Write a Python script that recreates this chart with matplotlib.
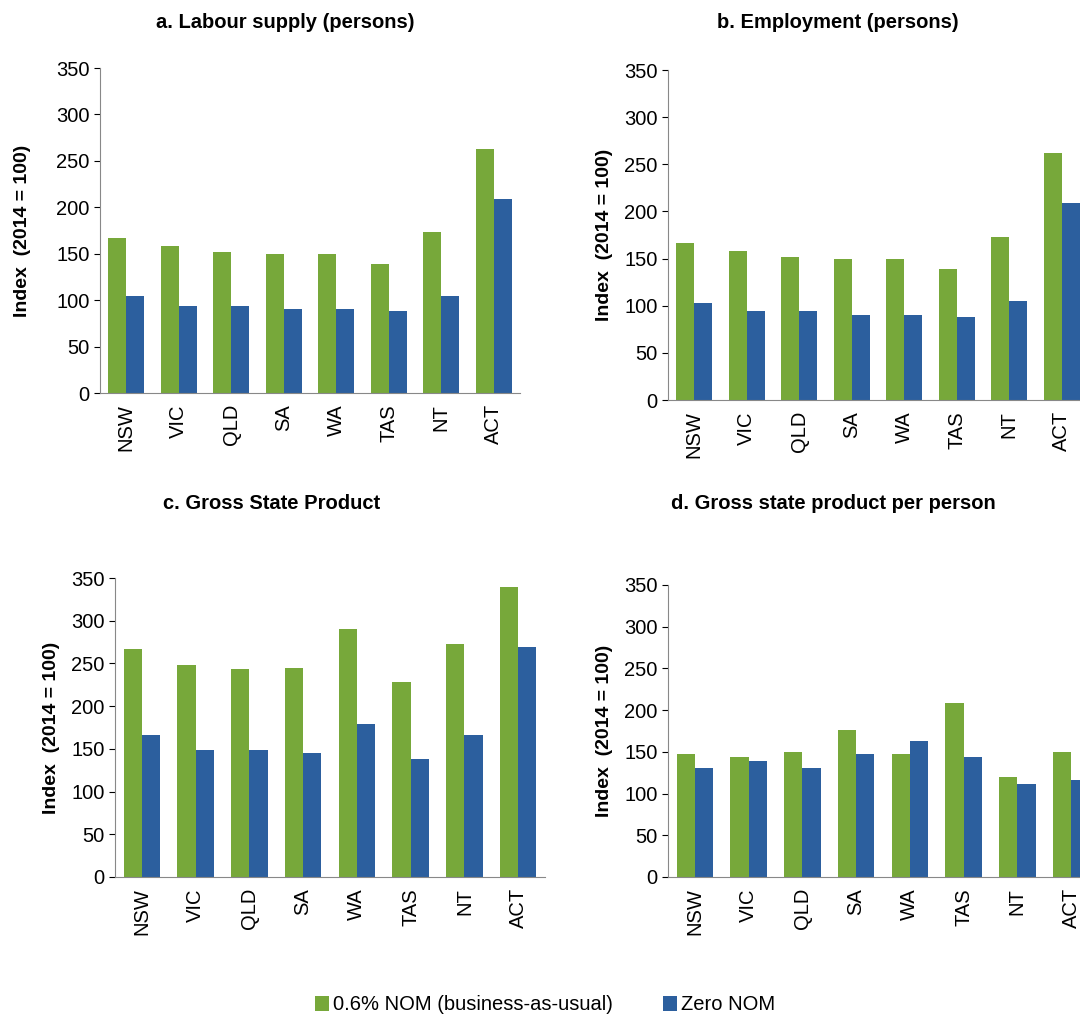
import matplotlib
matplotlib.use("Agg")
import matplotlib.pyplot as plt
import numpy as np

plt.rcParams['font.family'] = ['Liberation Sans', 'DejaVu Sans']

states = ["NSW", "VIC", "QLD", "SA", "WA", "TAS", "NT", "ACT"]
titles = ["a. Labour supply (persons)", "b. Employment (persons)",
          "c. Gross State Product", "d. Gross state product per person"]
bau_a = [167, 158, 152, 150, 150, 139, 173, 263]
zero_a = [105, 94, 94, 90, 90, 88, 105, 209]
bau_b = [167, 158, 152, 150, 150, 139, 173, 262]
zero_b = [103, 94, 94, 90, 90, 88, 105, 209]
bau_c = [267, 248, 243, 245, 290, 228, 273, 340]
zero_c = [166, 149, 149, 145, 179, 138, 166, 269]
bau_d = [148, 144, 150, 176, 148, 208, 120, 150]
zero_d = [131, 139, 131, 148, 163, 144, 111, 116]
series = [(bau_a, zero_a), (bau_b, zero_b), (bau_c, zero_c), (bau_d, zero_d)]
labels = ["0.6% NOM (business-as-usual)", "Zero NOM"]
green, blue = "#77A83A", "#2C5F9E"

W, H = 1080, 1018
fig = plt.figure(figsize=(W/100, H/100), dpi=100)
boxes = [(100, 68, 520, 393), (668, 70, 1088, 400),
         (115, 578, 545, 877), (668, 585, 1098, 877)]
titlepos = [(285, 22), (838, 22), (272, 503), (833, 503)]
x = np.arange(len(states))
w = 0.34
fs = 14.5
for i, ((l, t, r, b), (g, z)) in enumerate(zip(boxes, series)):
    ax = fig.add_axes([l/W, 1-b/H, (r-l)/W, (b-t)/H])
    ax.bar(x - w/2, g, w, color=green, label=labels[0])
    ax.bar(x + w/2, z, w, color=blue, label=labels[1])
    ax.set_ylim(0, 350)
    ax.set_yticks(range(0, 351, 50))
    ax.set_xlim(-0.5, 7.5)
    ax.set_xticks(x)
    ax.set_xticklabels(states, rotation=90, fontsize=fs)
    ax.tick_params(axis='y', labelsize=fs, length=4)
    ax.tick_params(axis='x', length=0, pad=8)
    for s in ['top', 'right']:
        ax.spines[s].set_visible(False)
    ax.spines['left'].set_color('#888888')
    ax.spines['bottom'].set_color('#888888')
    ax.set_ylabel("Index  (2014 = 100)", fontsize=14, fontweight='bold',
                  labelpad=(18 if i == 0 else 8))
    fig.text(titlepos[i][0]/W, 1-titlepos[i][1]/H, titles[i], ha='center', va='center',
             fontsize=14.5, fontweight='bold')
    if i == 0:
        h, lb = ax.get_legend_handles_labels()
fig.legend(h, lb, loc='center', bbox_to_anchor=(545/W, 1-1005/H), ncol=2, frameon=False,
           fontsize=14.5, handlelength=0.7, handleheight=0.7, handletextpad=0.2, columnspacing=2.5)
fig.savefig("out.png", dpi=100)
